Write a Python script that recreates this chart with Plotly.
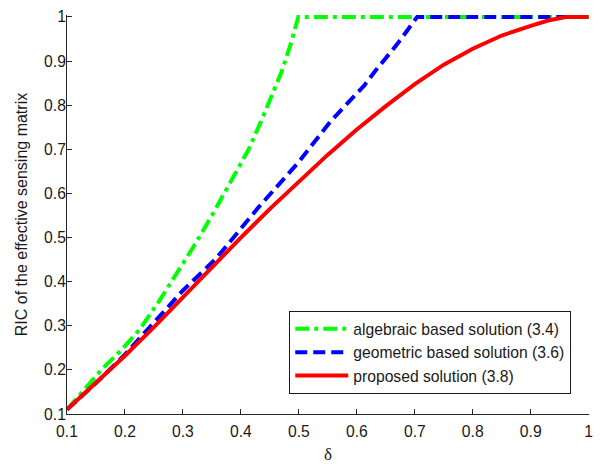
import plotly.graph_objects as go

# Data
alg_x = [0.1, 0.13, 0.162, 0.191, 0.225, 0.259, 0.29, 0.322, 0.35, 0.379, 0.413, 0.435, 0.455, 0.47, 0.485, 0.499, 0.6, 0.7, 0.8, 0.9, 1.0]
alg_y = [0.11, 0.155, 0.204, 0.241, 0.291, 0.356, 0.42, 0.487, 0.55, 0.618, 0.699, 0.764, 0.825, 0.875, 0.935, 1.0, 1.0, 1.0, 1.0, 1.0, 1.0]

geo_x = [0.1, 0.15, 0.2, 0.264, 0.3, 0.357, 0.43, 0.499, 0.555, 0.613, 0.632, 0.67, 0.704, 0.8, 0.9, 1.0]
geo_y = [0.11, 0.17, 0.235, 0.328, 0.38, 0.452, 0.568, 0.670, 0.764, 0.845, 0.878, 0.939, 1.0, 1.0, 1.0, 1.0]

pro_x = [0.1, 0.15, 0.2, 0.25, 0.3, 0.35, 0.4, 0.45, 0.5, 0.55, 0.6, 0.65, 0.7, 0.75, 0.8, 0.85, 0.9, 0.93, 0.96, 1.0]
pro_y = [0.11, 0.17, 0.232, 0.297, 0.365, 0.433, 0.50, 0.565, 0.627, 0.688, 0.745, 0.798, 0.848, 0.892, 0.928, 0.958, 0.98, 0.992, 1.0, 1.0]

tick_vals = [0.1, 0.2, 0.3, 0.4, 0.5, 0.6, 0.7, 0.8, 0.9, 1.0]
tick_text = ["0.1", "0.2", "0.3", "0.4", "0.5", "0.6", "0.7", "0.8", "0.9", "1"]

fig = go.Figure()
fig.add_trace(go.Scatter(x=alg_x, y=alg_y, mode="lines", name="algebraic based solution (3.4)",
                         line=dict(color="#00ff00", width=4, dash="14px,5px,4px,5px")))
fig.add_trace(go.Scatter(x=geo_x, y=geo_y, mode="lines", name="geometric based solution (3.6)",
                         line=dict(color="#0000ff", width=4, dash="12px,6px")))
fig.add_trace(go.Scatter(x=pro_x, y=pro_y, mode="lines", name="proposed solution (3.8)",
                         line=dict(color="#ff0000", width=4)))

axis_common = dict(
    showgrid=False, zeroline=False, showline=True, linecolor="#262626", linewidth=1,
    ticks="inside", ticklen=5, tickcolor="#262626", tickwidth=1,
    tickvals=tick_vals, ticktext=tick_text, ticklabeloverflow="allow",
    tickfont=dict(family="Liberation Sans, Arial", size=15.7, color="#1a1a1a"),
)

fig.update_layout(
    width=602, height=470,
    margin=dict(l=67, r=9, t=10, b=46),
    paper_bgcolor="white", plot_bgcolor="white",
    xaxis=dict(range=[0.1, 1.0005], ticklabelstandoff=3,
               title=dict(text="δ", standoff=9,
                          font=dict(family="Liberation Serif, Times New Roman", size=17, color="#1a1a1a")),
               **axis_common),
    yaxis=dict(range=[0.1, 1.0045], ticklabelstandoff=-3,
               title=dict(text="RIC of the effective sensing matrix", standoff=12,
                          font=dict(family="Liberation Sans, Arial", size=16, color="#1a1a1a")),
               **axis_common),
    legend=dict(x=0.966, y=0.05, xanchor="right", yanchor="bottom",
                bordercolor="#1a1a1a", borderwidth=1, bgcolor="white",
                font=dict(family="Liberation Sans, Arial", size=15.7, color="#1a1a1a"),
                tracegroupgap=0, itemwidth=53),
    showlegend=True,
)

# remove the default page margin so the 602x470 figure sits at the window origin
fig.write_html("out.html", config={"displayModeBar": False},
               post_script="document.body.style.margin='0';")
